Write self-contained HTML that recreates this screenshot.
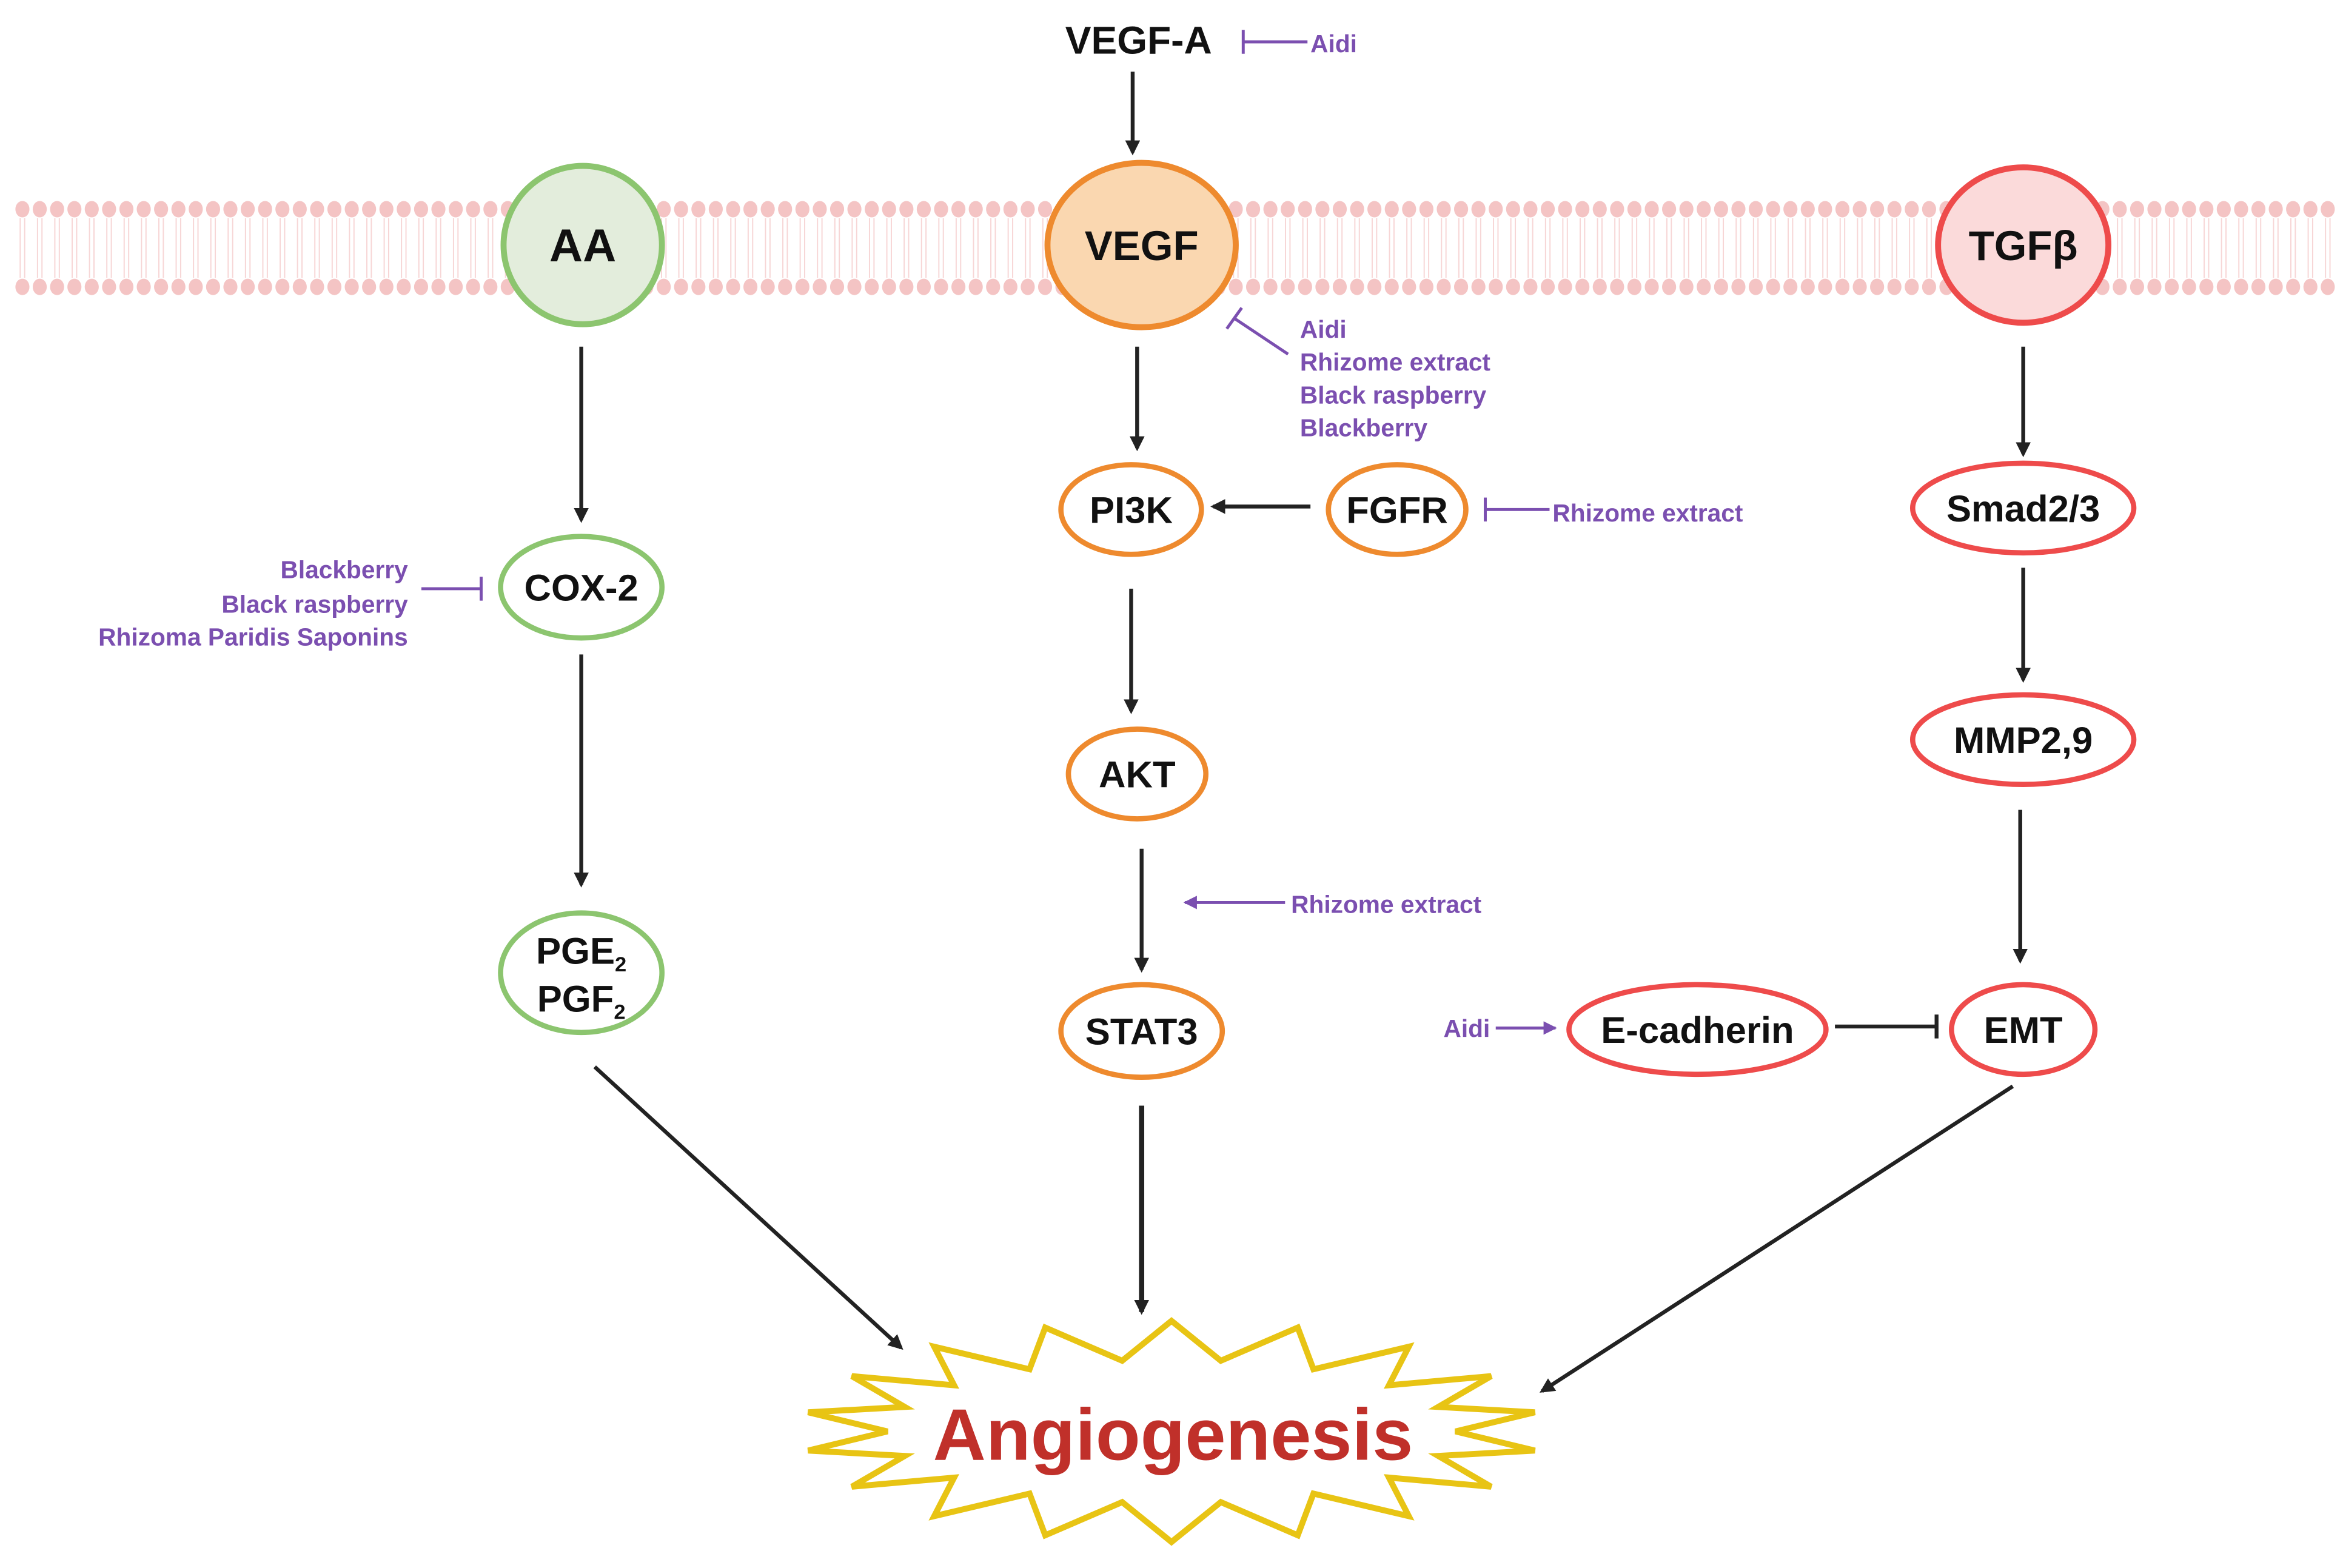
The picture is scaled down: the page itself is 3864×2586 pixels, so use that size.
<!DOCTYPE html>
<html><head><meta charset="utf-8"><style>
html,body{margin:0;padding:0;background:#fff;}
svg{display:block;}
text{font-family:"Liberation Sans",sans-serif;font-weight:bold;}
.n{font-size:25px;fill:#111;text-anchor:middle;}
.p{font-size:16.5px;fill:#7b4fb0;}
</style></head><body>
<svg id="s" width="3864" height="2586" viewBox="0 0 1568 1049.4" preserveAspectRatio="none" xmlns="http://www.w3.org/2000/svg">
<defs>
<marker id="ab" markerWidth="10" markerHeight="10" refX="8" refY="5" orient="auto" markerUnits="userSpaceOnUse"><path d="M0,0 L10,5 L0,10 z" fill="#222"/></marker>
<marker id="ap" markerWidth="9" markerHeight="9" refX="8" refY="4.5" orient="auto" markerUnits="userSpaceOnUse"><path d="M0,0 L9,4.5 L0,9 z" fill="#7b4fb0"/></marker>
</defs>
<g id="mem"></g>
<!-- membrane nodes -->
<ellipse cx="390" cy="164" rx="53" ry="53" fill="#e3eddc" stroke="#8cc56f" stroke-width="4"/>
<text class="n" x="390" y="175" style="font-size:31px">AA</text>
<ellipse cx="764" cy="164" rx="63" ry="55" fill="#fad7b0" stroke="#ee8a2e" stroke-width="4"/>
<text class="n" x="764" y="174" style="font-size:28px">VEGF</text>
<ellipse cx="1354" cy="164" rx="57" ry="52" fill="#fbdada" stroke="#ee4b4b" stroke-width="4"/>
<text class="n" x="1354" y="174" style="font-size:28px">TGFβ</text>
<!-- other nodes -->
<g fill="#fff" stroke-width="3.5">
<ellipse cx="389" cy="393" rx="54" ry="34" stroke="#8cc56f"/>
<ellipse cx="389" cy="651" rx="54" ry="40" stroke="#8cc56f"/>
<ellipse cx="757" cy="341" rx="47" ry="30" stroke="#ee8a2e"/>
<ellipse cx="935" cy="341" rx="46" ry="30" stroke="#ee8a2e"/>
<ellipse cx="761" cy="518" rx="46" ry="30" stroke="#ee8a2e"/>
<ellipse cx="764" cy="690" rx="54" ry="31" stroke="#ee8a2e"/>
<ellipse cx="1354" cy="340" rx="74" ry="30" stroke="#ee4b4b"/>
<ellipse cx="1354" cy="495" rx="74" ry="30" stroke="#ee4b4b"/>
<ellipse cx="1354" cy="689" rx="48" ry="30" stroke="#ee4b4b"/>
<ellipse cx="1136" cy="689" rx="86" ry="30" stroke="#ee4b4b"/>
</g>
<text class="n" x="389" y="402">COX-2</text>
<text class="n" x="389" y="645">PGE<tspan font-size="14" dy="5">2</tspan></text>
<text class="n" x="389" y="677">PGF<tspan font-size="14" dy="5">2</tspan></text>
<text class="n" x="757" y="350">PI3K</text>
<text class="n" x="935" y="350">FGFR</text>
<text class="n" x="761" y="527">AKT</text>
<text class="n" x="764" y="699">STAT3</text>
<text class="n" x="1354" y="349">Smad2/3</text>
<text class="n" x="1354" y="504">MMP2,9</text>
<text class="n" x="1354" y="698">EMT</text>
<text class="n" x="1136" y="698">E-cadherin</text>
<text class="n" x="762" y="36" style="font-size:26px">VEGF-A</text>
<!-- black arrows -->
<g stroke="#222" stroke-width="2.6" fill="none" marker-end="url(#ab)">
<line x1="758" y1="48" x2="758" y2="102"/>
<line x1="389" y1="232" x2="389" y2="348"/>
<line x1="389" y1="438" x2="389" y2="592"/>
<line x1="398" y1="714" x2="603" y2="902"/>
<line x1="761" y1="232" x2="761" y2="300"/>
<line x1="877" y1="339" x2="812" y2="339"/>
<line x1="757" y1="394" x2="757" y2="476"/>
<line x1="764" y1="568" x2="764" y2="649"/>
<line x1="764" y1="740" x2="764" y2="878" stroke-width="3.5"/>
<line x1="1354" y1="232" x2="1354" y2="304"/>
<line x1="1354" y1="380" x2="1354" y2="455"/>
<line x1="1352" y1="542" x2="1352" y2="643"/>
<line x1="1347" y1="727" x2="1032" y2="931"/>
</g>
<g stroke="#222" stroke-width="2.6"><line x1="1228" y1="687" x2="1296" y2="687"/><line x1="1296" y1="679" x2="1296" y2="695"/></g>
<!-- purple -->
<g stroke="#7b4fb0" stroke-width="2" fill="none">
<line x1="875" y1="28" x2="832" y2="28"/><line x1="832" y1="20" x2="832" y2="36"/>
<line x1="862" y1="237" x2="826" y2="213"/><line x1="821" y1="220" x2="831" y2="206"/>
<line x1="1037" y1="341" x2="994" y2="341"/><line x1="994" y1="333" x2="994" y2="349"/>
<line x1="282" y1="394" x2="322" y2="394"/><line x1="322" y1="386" x2="322" y2="402"/>
<line x1="860" y1="604" x2="793" y2="604" marker-end="url(#ap)"/>
<line x1="1001" y1="688" x2="1041" y2="688" marker-end="url(#ap)"/>
</g>
<text class="p" x="877" y="35">Aidi</text>
<text class="p" x="870" y="226">Aidi</text>
<text class="p" x="870" y="248">Rhizome extract</text>
<text class="p" x="870" y="270">Black raspberry</text>
<text class="p" x="870" y="292">Blackberry</text>
<text class="p" x="1039" y="349">Rhizome extract</text>
<text class="p" x="864" y="611">Rhizome extract</text>
<text class="p" x="966" y="694">Aidi</text>
<text class="p" x="273" y="387" text-anchor="end">Blackberry</text>
<text class="p" x="273" y="410" text-anchor="end">Black raspberry</text>
<text class="p" x="273" y="432" text-anchor="end">Rhizoma Paridis Saponins</text>
<polygon id="star" fill="#fff" stroke="#e8c414" stroke-width="4" stroke-linejoin="miter"/>
<text x="785" y="977" text-anchor="middle" style="font-size:49px;fill:#c0302a">Angiogenesis</text>
</svg>
<script>
(function(){
var ns="http://www.w3.org/2000/svg",g=document.getElementById("mem"),h="";
for(var x=15;x<1560;x+=11.6){
h+='<line x1="'+(x-1.5)+'" y1="146" x2="'+(x-1.5)+'" y2="186" stroke="#f7d6d6" stroke-width="0.8"/>';
h+='<line x1="'+(x+1.5)+'" y1="146" x2="'+(x+1.5)+'" y2="186" stroke="#f7d6d6" stroke-width="0.8"/>';
h+='<ellipse cx="'+x+'" cy="140" rx="4.7" ry="5.5" fill="#f4c4c4"/>';
h+='<ellipse cx="'+x+'" cy="192" rx="4.7" ry="5.5" fill="#f4c4c4"/>';
}
g.innerHTML=h;
var N=18,pts=[],cx=784,cy=958;
for(var i=0;i<2*N;i++){
var a=-Math.PI/2+i*Math.PI/N,o=i%2==0;
var rx=o?247:190,ry=o?74:48;
pts.push((cx+rx*Math.cos(a)).toFixed(1)+","+(cy+ry*Math.sin(a)).toFixed(1));
}
document.getElementById("star").setAttribute("points",pts.join(" "));
})();
</script>
</body></html>
